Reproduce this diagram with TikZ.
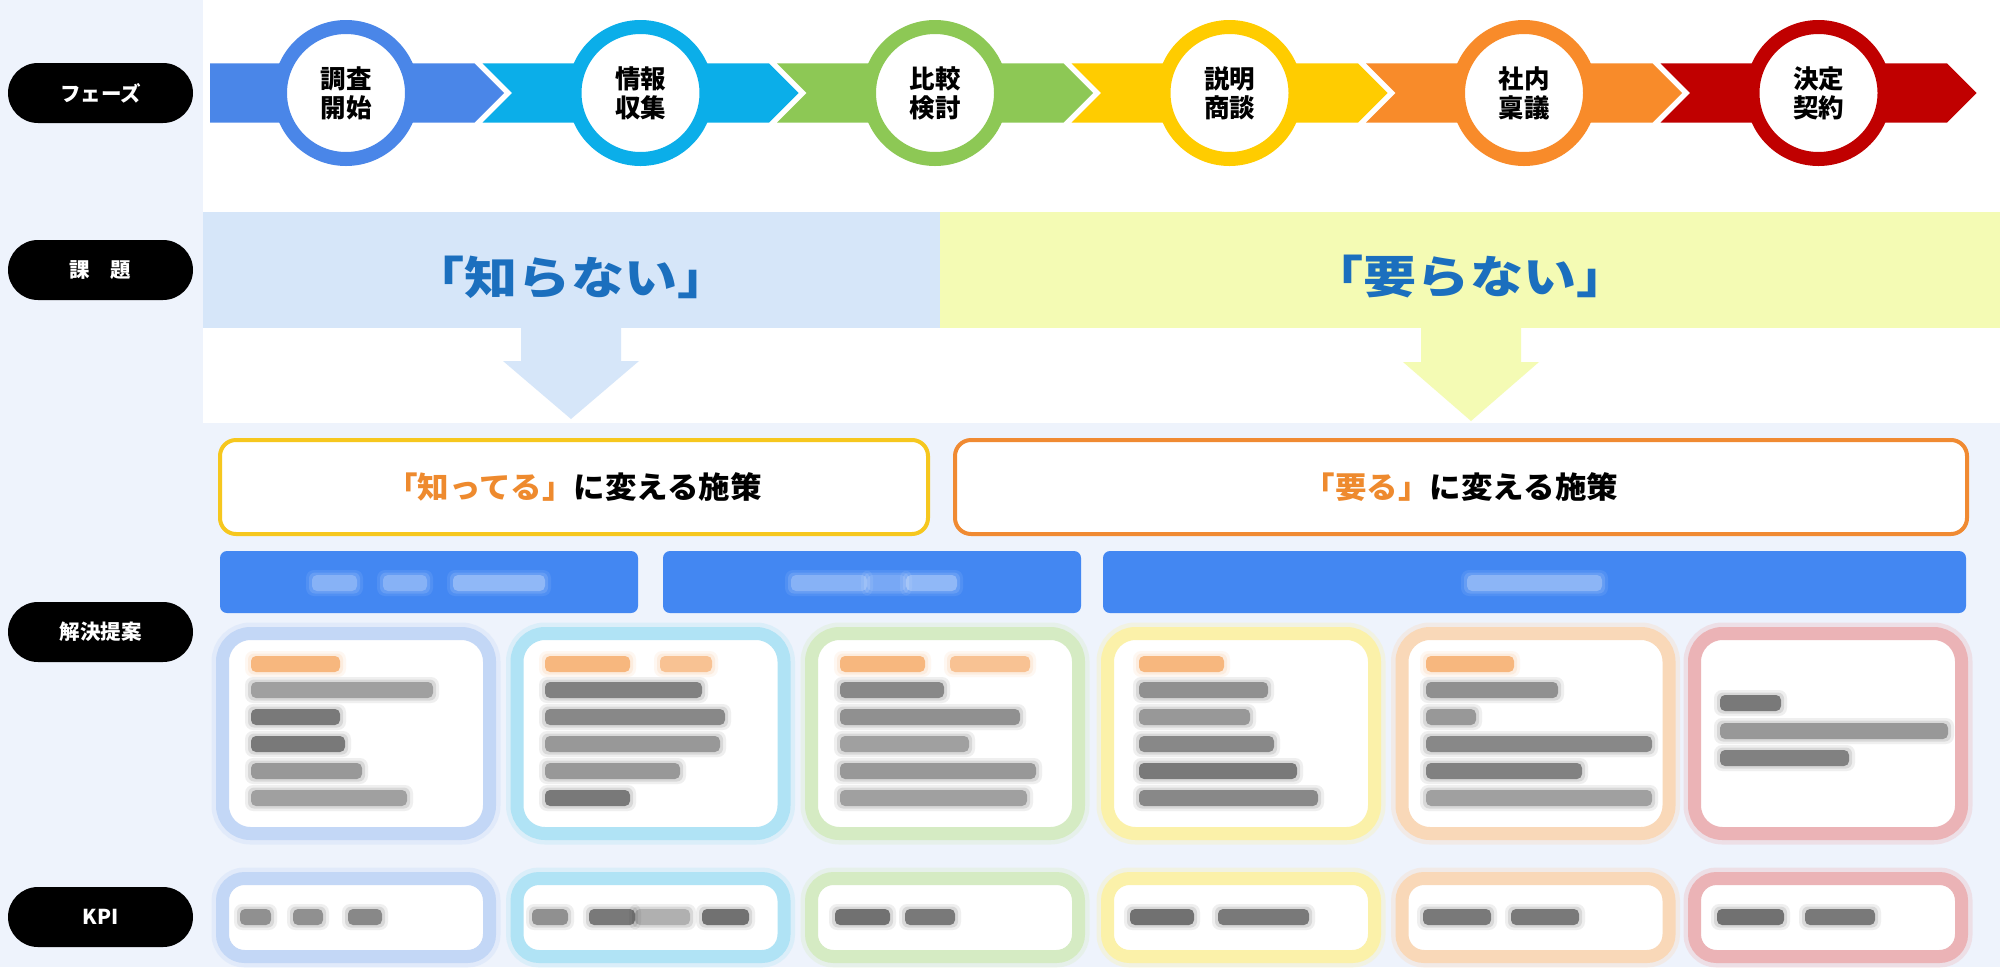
\documentclass[tikz,border=0pt]{standalone}
\usepackage{fontspec}
\setmainfont{Noto Sans CJK JP}
\definecolor{bgblue}{HTML}{EEF3FC}
\definecolor{bandblue}{HTML}{D6E6F9}
\definecolor{bandyel}{HTML}{F4FBB4}
\definecolor{kblue}{HTML}{1B6FBE}
\definecolor{phblue}{HTML}{4A86E8}
\definecolor{phcyan}{HTML}{0BAEE9}
\definecolor{phgreen}{HTML}{8DC855}
\definecolor{phyel}{HTML}{FFCC00}
\definecolor{phorange}{HTML}{F88B2A}
\definecolor{phred}{HTML}{C00000}
\definecolor{boxyel}{HTML}{F6C71E}
\definecolor{boxorg}{HTML}{F08A32}
\definecolor{orgtext}{HTML}{EE8A2E}
\definecolor{hblue}{HTML}{4387F2}
\definecolor{lcblue}{HTML}{C3D7F6}
\definecolor{lccyan}{HTML}{B0E3F5}
\definecolor{lcgreen}{HTML}{D5EBC3}
\definecolor{lcyel}{HTML}{FBF1A9}
\definecolor{lcorg}{HTML}{F9D8B8}
\definecolor{lcred}{HTML}{EBB3B6}
\definecolor{blurc}{HTML}{3A3A3A}
\definecolor{blurorg}{HTML}{F5A156}
\newcommand\chev[3]{\fill[#1] (#2,63.3) -- (#3,63.3) -- (#3+29.5,93) -- (#3,122.7) -- (#2,122.7) -- (#2+29.5,93) -- cycle;}
\newcommand\card[2]{%
  \draw[#1,line width=22pt,opacity=0.3,rounded corners=28pt] (#2+6.5,633.5) rectangle (#2+273.5,833.5);
  \draw[#1,line width=13pt,fill=white,rounded corners=28pt] (#2+6.5,633.5) rectangle (#2+273.5,833.5);}
\newcommand\kcard[2]{%
  \draw[#1,line width=22pt,opacity=0.3,rounded corners=22pt] (#2+6.5,878.5) rectangle (#2+273.5,956.5);
  \draw[#1,line width=13pt,fill=white,rounded corners=22pt] (#2+6.5,878.5) rectangle (#2+273.5,956.5);}
\newcommand\bl[5][blurc]{%
  \fill[#1,opacity=0.08,rounded corners=8pt] (#2-6,#4-13) rectangle (#3+6,#4+13);
  \fill[#1,opacity=0.12,rounded corners=6pt] (#2-3,#4-10.5) rectangle (#3+3,#4+10.5);
  \fill[#1,opacity=#5,rounded corners=5pt] (#2,#4-8) rectangle (#3,#4+8);}
\begin{document}
\begin{tikzpicture}[x=1pt,y=-1pt,
  pill/.style={fill=black,text=white,rounded corners=30pt,minimum width=185pt,minimum height=60pt,inner sep=0pt,font=\fontsize{20.5}{24}\selectfont\bfseries},
  ring/.style={circle,draw=#1,line width=14pt,fill=white,minimum size=132pt,inner sep=0pt,align=center,font=\fontsize{25.5}{29}\selectfont\bfseries},
  bigtext/.style={text=kblue,font=\fontsize{45}{50}\selectfont\bfseries\addfontfeatures{FakeStretch=1.18},inner sep=0pt},
  tbox/.style={draw=#1,line width=4pt,fill=white,rounded corners=16pt,minimum height=94pt,inner sep=0pt,font=\fontsize{30}{34}\selectfont\bfseries\addfontfeatures{FakeStretch=1.05}}]
\useasboundingbox (0,0) rectangle (2000,967);
\fill[bgblue] (0,0) rectangle (2000,967);
\fill[white] (203,0) rectangle (2000,423);
% row labels
\node[pill] (lPhase) at (100.5,93) {フェーズ};
\node[pill] (lIssue) at (100.5,270) {課　題};
\node[pill] (lSol) at (100.5,632) {解決提案};
\node[pill] (lKPI) at (100.5,917) {KPI};
% phase band
\fill[phblue] (210,63.3) -- (474.5,63.3) -- (504,93) -- (474.5,122.7) -- (210,122.7) -- cycle;
\chev{phcyan}{482.5}{769}
\chev{phgreen}{777}{1063.5}
\chev{phyel}{1071.5}{1358}
\chev{phorange}{1366}{1652.5}
\chev{phred}{1660.5}{1947}
\node[ring=phblue] (c1) at (346,93) {調査\\開始};
\node[ring=phcyan] (c2) at (640.5,93) {情報\\収集};
\node[ring=phgreen] (c3) at (935,93) {比較\\検討};
\node[ring=phyel] (c4) at (1229.5,93) {説明\\商談};
\node[ring=phorange] (c5) at (1524,93) {社内\\稟議};
\node[ring=phred] (c6) at (1818.5,93) {決定\\契約};
% issue bands
\fill[bandblue] (203,212) rectangle (940,328);
\fill[bandyel] (940,212) rectangle (2000,328);
\node[bigtext] (k1) at (571,277) {「知らない」};
\node[bigtext] (k2) at (1470,277) {「要らない」};
\fill[bandblue] (521,326) -- (621,326) -- (621,361) -- (639,361) -- (571,419) -- (503,361) -- (521,361) -- cycle;
\fill[bandyel] (1421,326) -- (1521,326) -- (1521,362) -- (1539,362) -- (1471,421) -- (1403,362) -- (1421,362) -- cycle;
% measure boxes
\node[tbox=boxyel,minimum width=708pt] (s1) at (574,487) {{\color{orgtext}「知ってる」}に変える施策};
\node[tbox=boxorg,minimum width=1012pt] (s2) at (1461,487) {{\color{orgtext}「要る」}に変える施策};
% header bars
\fill[hblue,rounded corners=7pt] (220,551) rectangle (638,613);
\fill[hblue,rounded corners=7pt] (663,551) rectangle (1081,613);
\fill[hblue,rounded corners=7pt] (1103,551) rectangle (1966,613);
\bl[white]{312}{357}{583}{0.22}
\bl[white]{383}{427}{583}{0.22}
\bl[white]{453}{545}{583}{0.28}
\bl[white]{791}{867}{583}{0.22}
\bl[white]{867}{906}{583}{0.12}
\bl[white]{906}{957}{583}{0.28}
\bl[white]{1467}{1602}{583}{0.25}
% cards
\card{lcblue}{216}
\card{lccyan}{510.5}
\card{lcgreen}{805}
\card{lcyel}{1101}
\card{lcorg}{1395.5}
\card{lcred}{1688}
\kcard{lcblue}{216}
\kcard{lccyan}{510.5}
\kcard{lcgreen}{805}
\kcard{lcyel}{1101}
\kcard{lcorg}{1395.5}
\kcard{lcred}{1688}
% blurred card contents
\bl[blurorg]{251}{340}{664}{0.7}
\bl{251}{433}{690}{0.35}
\bl{251}{340}{717}{0.6}
\bl{251}{345}{744}{0.6}
\bl{251}{362}{771}{0.4}
\bl{251}{407}{798}{0.35}
\bl[blurorg]{545}{630}{664}{0.7}
\bl[blurorg]{660}{712}{664}{0.55}
\bl{545}{702}{690}{0.55}
\bl{545}{725}{717}{0.5}
\bl{545}{720}{744}{0.4}
\bl{545}{680}{771}{0.4}
\bl{545}{630}{798}{0.6}
\bl[blurorg]{840}{925}{664}{0.7}
\bl[blurorg]{950}{1030}{664}{0.55}
\bl{840}{944}{690}{0.5}
\bl{840}{1020}{717}{0.45}
\bl{840}{969}{744}{0.35}
\bl{840}{1036}{771}{0.4}
\bl{840}{1027}{798}{0.35}
\bl[blurorg]{1139}{1224}{664}{0.7}
\bl{1139}{1268}{690}{0.45}
\bl{1139}{1250}{717}{0.4}
\bl{1139}{1274}{744}{0.5}
\bl{1139}{1297}{771}{0.6}
\bl{1139}{1318}{798}{0.5}
\bl[blurorg]{1426}{1514}{664}{0.7}
\bl{1426}{1558}{690}{0.45}
\bl{1426}{1476}{717}{0.4}
\bl{1426}{1652}{744}{0.5}
\bl{1426}{1582}{771}{0.55}
\bl{1426}{1652}{798}{0.35}
\bl{1720}{1781}{703}{0.6}
\bl{1720}{1948}{731}{0.4}
\bl{1720}{1849}{758}{0.55}
% blurred KPI contents
\bl{240}{271}{917}{0.45}
\bl{293}{323}{917}{0.45}
\bl{348}{382}{917}{0.5}
\bl{532}{568}{917}{0.45}
\bl{589}{635}{917}{0.6}
\bl{635}{690}{917}{0.25}
\bl{702}{749}{917}{0.65}
\bl{835}{890}{917}{0.65}
\bl{905}{955}{917}{0.6}
\bl{1130}{1194}{917}{0.65}
\bl{1218}{1309}{917}{0.6}
\bl{1423}{1491}{917}{0.6}
\bl{1511}{1579}{917}{0.6}
\bl{1717}{1784}{917}{0.65}
\bl{1805}{1875}{917}{0.6}
\end{tikzpicture}
\end{document}
